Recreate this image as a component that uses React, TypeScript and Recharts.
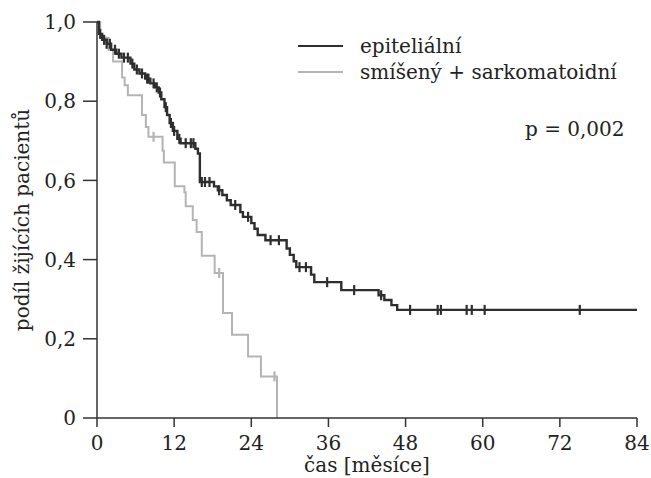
import React from "react";
import { ComposedChart, Line, Scatter, XAxis, YAxis, Legend } from "recharts";

// Kaplan-Meier odhady (čas v měsících, podíl žijících)
const epiTime = [0, 0.3, 0.8, 1.5, 2.2, 3, 3.8, 5.2, 5.8, 6.6, 7.5, 8.3, 9, 9.6, 10, 10.5, 10.9, 11.3, 11.8, 12.5, 13, 15.3, 15.7, 16, 18.2, 18.8, 19.5, 20.2, 20.8, 22.3, 22.7, 24, 24.5, 25, 26.2, 29.5, 30, 30.6, 31, 33.3, 33.8, 38, 43.8, 44.7, 45.8, 46.7, 84];
const epiSurv = [1, 0.97, 0.955, 0.945, 0.93, 0.92, 0.91, 0.895, 0.88, 0.87, 0.857, 0.845, 0.835, 0.822, 0.805, 0.785, 0.765, 0.745, 0.725, 0.705, 0.694, 0.68, 0.668, 0.596, 0.585, 0.575, 0.563, 0.55, 0.538, 0.52, 0.508, 0.492, 0.478, 0.462, 0.449, 0.428, 0.412, 0.396, 0.381, 0.362, 0.343, 0.323, 0.31, 0.298, 0.285, 0.273, 0.273];

const mixTime = [0, 0.5, 1.8, 2.5, 3.9, 4.3, 4.8, 7, 7.6, 8, 10.2, 10.4, 12.1, 13.6, 13.8, 14.9, 15.5, 16.3, 18.3, 19.6, 21, 23.5, 25.5, 28];
const mixSurv = [1, 0.96, 0.93, 0.9, 0.86, 0.84, 0.815, 0.765, 0.735, 0.71, 0.675, 0.645, 0.585, 0.57, 0.535, 0.5, 0.47, 0.41, 0.366, 0.265, 0.21, 0.155, 0.105, 0];

// cenzurovaná pozorování
const epiCensTime = [0.5, 1.1, 1.5, 2, 2.8, 3.4, 4.2, 4.8, 5.5, 6.2, 7, 7.8, 8, 8.8, 9.3, 9.8, 10.7, 11.5, 12, 12.8, 13.8, 14.6, 15, 16.3, 16.8, 17.5, 19, 21.5, 23.5, 27, 28.3, 31.5, 32.5, 35.8, 40, 44.2, 48.7, 53, 53.5, 57.5, 58.3, 60.3, 75.1];
const epiCensSurv = [0.97, 0.955, 0.945, 0.945, 0.93, 0.92, 0.91, 0.91, 0.895, 0.88, 0.87, 0.857, 0.857, 0.845, 0.835, 0.822, 0.785, 0.745, 0.725, 0.705, 0.694, 0.694, 0.694, 0.596, 0.596, 0.596, 0.575, 0.538, 0.508, 0.449, 0.449, 0.381, 0.381, 0.343, 0.323, 0.31, 0.273, 0.273, 0.273, 0.273, 0.273, 0.273, 0.273];
const mixCensTime = [8.8, 19, 27.6];
const mixCensSurv = [0.71, 0.366, 0.105];

const xTicks = [0, 12, 24, 36, 48, 60, 72, 84];
const yTicks = [0, 0.2, 0.4, 0.6, 0.8, 1];

const zip = (t: number[], s: number[]) => t.map((v, i) => ({ t: v, s: s[i] }));
const epiData = zip(epiTime, epiSurv);
const mixData = zip(mixTime, mixSurv);
const epiCens = zip(epiCensTime, epiCensSurv);
const mixCens = zip(mixCensTime, mixCensSurv);

const FONT = "'DejaVu Serif', 'Liberation Serif', serif";
const DARK = "#2e2e2e";
const LIGHT = "#b4b4b4";

const fmtY = (v: number) => (v === 0 ? "0" : v.toFixed(1).replace(".", ","));

const censorMark = (color: string) => (p: any) => (
  <line x1={p.cx} x2={p.cx} y1={p.cy - 5} y2={p.cy + 5} stroke={color} strokeWidth={2.2} />
);

const renderLegend = (props: any) => (
  <div style={{ fontFamily: FONT, fontSize: 20, color: "#222" }}>
    {(props.payload || [])
      .filter((e: any) => e.type !== "none" && e.value !== "s")
      .map((e: any) => (
        <div key={e.value} style={{ display: "flex", alignItems: "center", height: 26, whiteSpace: "nowrap" }}>
          <span style={{ display: "inline-block", width: 45, height: 0, borderTop: `2px solid ${e.color}`, marginRight: 17 }} />
          <span>{e.value}</span>
        </div>
      ))}
  </div>
);

export default function App() {
  return (
    <div style={{ position: "absolute", left: 0, top: 0, width: 651, height: 478, background: "#fff" }}>
      <ComposedChart width={651} height={478} margin={{ top: 22, right: 14, bottom: 0, left: 0 }}>
        <XAxis
          type="number"
          dataKey="t"
          domain={[0, 84]}
          ticks={xTicks}
          allowDataOverflow
          height={60}
          tickSize={9}
          tickMargin={9}
          stroke="#333"
          strokeWidth={1.5}
          tick={{ fill: "#222", fontFamily: FONT, fontSize: 20 }}
          label={{ value: "čas [měsíce]", position: "insideBottom", offset: 6, fill: "#222", fontFamily: FONT, fontSize: 20 }}
        />
        <YAxis
          type="number"
          dataKey="s"
          domain={[0, 1]}
          ticks={yTicks}
          width={97}
          tickSize={14}
          tickMargin={7}
          tickFormatter={fmtY}
          stroke="#333"
          strokeWidth={1.5}
          tick={{ fill: "#222", fontFamily: FONT, fontSize: 20 }}
          label={{ value: "podíl žijících pacientů", angle: -90, position: "insideLeft", offset: 22, fill: "#222", fontFamily: FONT, fontSize: 20, style: { textAnchor: "middle" } }}
        />
        <Legend
          layout="horizontal"
          verticalAlign="middle"
          align="center"
          content={renderLegend}
          wrapperStyle={{ top: 33, left: 298, width: 340 }}
        />
        <Line
          data={mixData}
          dataKey="s"
          name="smíšený + sarkomatoidní"
          type="stepAfter"
          stroke={LIGHT}
          strokeWidth={2}
          dot={false}
          isAnimationActive={false}
        />
        <Line
          data={epiData}
          dataKey="s"
          name="epiteliální"
          type="stepAfter"
          stroke={DARK}
          strokeWidth={2.4}
          dot={false}
          isAnimationActive={false}
        />
        <Scatter data={mixCens} dataKey="s" legendType="none" shape={censorMark(LIGHT)} isAnimationActive={false} />
        <Scatter data={epiCens} dataKey="s" legendType="none" shape={censorMark(DARK)} isAnimationActive={false} />
      </ComposedChart>
      <div style={{ position: "absolute", left: 525, top: 117, fontFamily: FONT, fontSize: 20, color: "#222" }}>
        p = 0,002
      </div>
    </div>
  );
}
